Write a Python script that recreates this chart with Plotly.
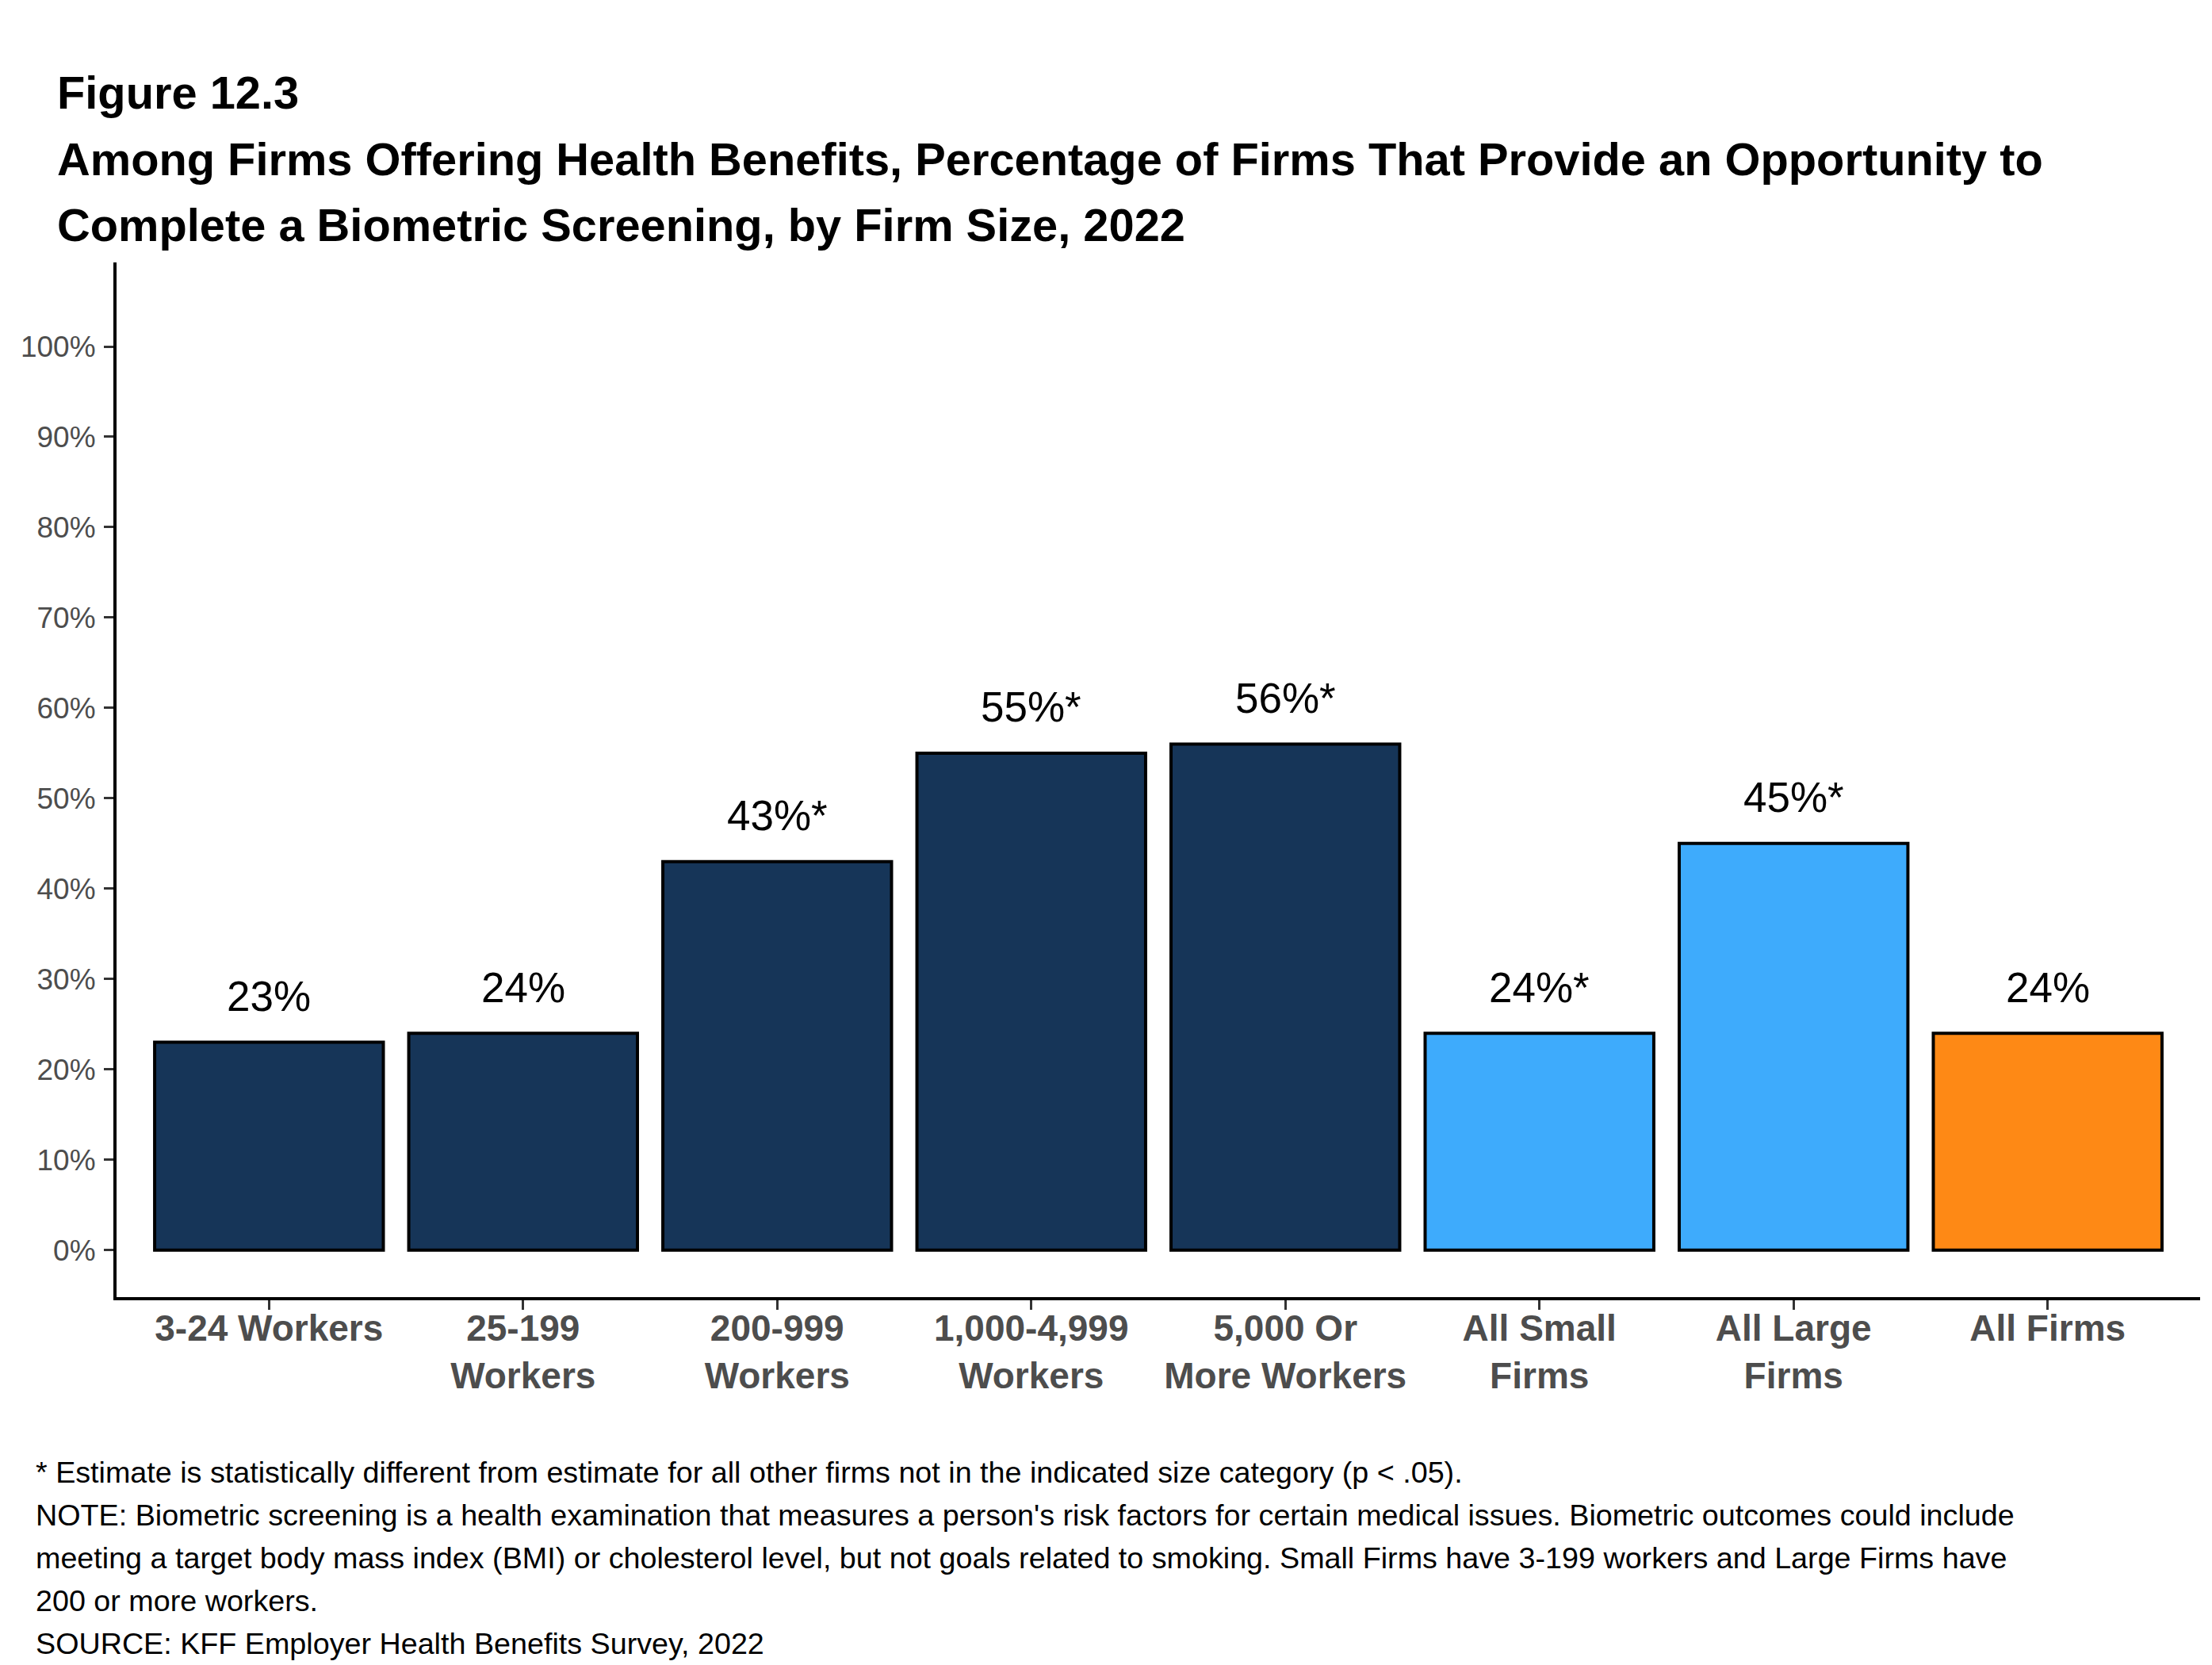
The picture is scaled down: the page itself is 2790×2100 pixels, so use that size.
import plotly.graph_objects as go

# ---- data ----
categories = ["3-24 Workers", "25-199<br>Workers", "200-999<br>Workers", "1,000-4,999<br>Workers",
              "5,000 Or<br>More Workers", "All Small<br>Firms", "All Large<br>Firms", "All Firms"]
values = [23, 24, 43, 55, 56, 24, 45, 24]
labels = ["23%", "24%", "43%*", "55%*", "56%*", "24%*", "45%*", "24%"]
colors = ["#163558", "#163558", "#163558", "#163558", "#163558", "#3EABFC", "#3EABFC", "#FE8915"]
y_tickvals = [0, 10, 20, 30, 40, 50, 60, 70, 80, 90, 100]
y_ticktext = ["0%", "10%", "20%", "30%", "40%", "50%", "60%", "70%", "80%", "90%", "100%"]

title_lines = [
    "Figure 12.3",
    "Among Firms Offering Health Benefits, Percentage of Firms That Provide an Opportunity to",
    "Complete a Biometric Screening, by Firm Size, 2022",
]
note_lines = [
    "* Estimate is statistically different from estimate for all other firms not in the indicated size category (p < .05).",
    "NOTE: Biometric screening is a health examination that measures a person's risk factors for certain medical issues. Biometric outcomes could include",
    "meeting a target body mass index (BMI) or cholesterol level, but not goals related to smoking. Small Firms have 3-199 workers and Large Firms have",
    "200 or more workers.",
    "SOURCE: KFF Employer Health Benefits Survey, 2022",
]

# ---- layout geometry (pixels) ----
W, H = 2790, 2100
L, R, T, B = 139, 23, 323, 472
PW = W - L - R
PH = H - T - B
FONT = "Liberation Sans, Arial, sans-serif"


def px_x(x):
    return (x - L) / PW


def px_y(y):
    return (H - B - y) / PH


fig = go.Figure()
fig.add_trace(go.Bar(
    x=categories, y=values, width=0.9,
    marker=dict(color=colors, line=dict(color="black", width=4)),
    showlegend=False, hoverinfo="skip",
))

annotations = []
for c, v, lab in zip(categories, values, labels):
    annotations.append(dict(x=c, y=v, xref="x", yref="y", text=lab, showarrow=False,
                            yanchor="middle", yshift=58,
                            font=dict(family=FONT, size=53, color="black")))

title_y = [109, 193, 276]
for ty, line in zip(title_y, title_lines):
    annotations.append(dict(x=px_x(62), y=px_y(ty), xref="paper", yref="paper", text="<b>" + line + "</b>",
                            showarrow=False, xanchor="left", yanchor="middle",
                            font=dict(family=FONT, size=57.8, color="black")))

note_y = [1849, 1903, 1957, 2011, 2065]
for ny, line in zip(note_y, note_lines):
    annotations.append(dict(x=px_x(35), y=px_y(ny), xref="paper", yref="paper", text=line,
                            showarrow=False, xanchor="left", yanchor="middle",
                            font=dict(family=FONT, size=37.7, color="black")))

fig.update_layout(
    width=W, height=H,
    margin=dict(l=L, r=R, t=T, b=B, autoexpand=False),
    paper_bgcolor="white", plot_bgcolor="white",
    annotations=annotations,
    bargap=0.1,
)
fig.update_xaxes(
    type="category", range=[-0.6, 7.6],
    showline=True, linecolor="black", linewidth=4,
    ticks="outside", ticklen=12, tickwidth=3, tickcolor="#333333",
    tickfont=dict(family=FONT, size=46, color="#4d4d4d", weight="bold"),
    ticklabelstandoff=-16,
    showgrid=False, zeroline=False,
)
fig.update_yaxes(
    range=[-5.2, 109.3],
    tickvals=y_tickvals, ticktext=y_ticktext,
    showline=True, linecolor="black", linewidth=4,
    ticks="outside", ticklen=12, tickwidth=3, tickcolor="#333333",
    tickfont=dict(family=FONT, size=37, color="#4d4d4d"),
    ticklabelstandoff=3,
    showgrid=False, zeroline=False,
)

fig.write_html("out.html")
